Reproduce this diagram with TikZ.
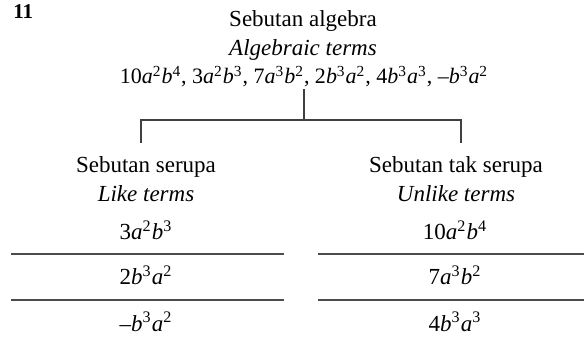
\documentclass[tikz,border=0pt]{standalone}
\usepackage{fontspec}
\setmainfont{Liberation Serif}
\usepackage{xcolor}
\usepackage{tikz}
\usetikzlibrary{positioning, calc}

\newcommand{\pw}[2]{\textit{#1}\textsuperscript{#2}}

\begin{document}
\begin{tikzpicture}[
  x=0.5pt, y=-0.5pt,
  txt/.style={inner sep=0pt, anchor=base, font=\fontsize{11.5}{13}\selectfont},
  eng/.style={txt, font=\fontsize{11.5}{13}\selectfont\itshape},
  tree/.style={draw=black!75, line width=0.6pt},
  rule/.style={draw=black!70, line width=0.8pt}
]
\useasboundingbox (0,0) rectangle (584,342);

\node[anchor=base west, inner sep=0pt, font=\fontsize{10.5}{12}\selectfont\bfseries] (num) at (13,19) {11};

% top
\node[txt] (title) at (303,27) {Sebutan algebra};
\node[eng] (titleen) at (303,56) {Algebraic terms};
\node[txt, font=\fontsize{11}{13}\selectfont] (allterms) at (304,84) {10\pw{a}{2}\pw{b}{4}, 3\pw{a}{2}\pw{b}{3}, 7\pw{a}{3}\pw{b}{2}, 2\pw{b}{3}\pw{a}{2}, 4\pw{b}{3}\pw{a}{3}, –\pw{b}{3}\pw{a}{2}};

% two groups
\node[txt] (like) at (146,172) {Sebutan serupa};
\node[eng] (likeen) at (146,201) {Like terms};
\node[txt] (unlike) at (456,172) {Sebutan tak serupa};
\node[eng] (unlikeen) at (456,201) {Unlike terms};

\coordinate (fork) at (303,120);
\draw[tree] (allterms.south) ++(0,1) -- (allterms.south |- fork);
\draw[tree, shorten >=6.5pt] (fork) -| ([xshift=-2.5pt]like.north);
\draw[tree, shorten >=6.5pt] (fork) -| ([xshift=2.5pt]unlike.north);

% like terms
\node[txt] (l1) at (146,240) {3\pw{a}{2}\pw{b}{3}};
\node[txt] (l2) at (146,285) {2\pw{b}{3}\pw{a}{2}};
\node[txt] (l3) at (146,331) {–\pw{b}{3}\pw{a}{2}};

% unlike terms
\node[txt] (u1) at (455,240) {10\pw{a}{2}\pw{b}{4}};
\node[txt] (u2) at (455,285) {7\pw{a}{3}\pw{b}{2}};
\node[txt] (u3) at (455,331) {4\pw{b}{3}\pw{a}{3}};

\draw[rule] (11,254) -- (284,254);
\draw[rule] (11,300) -- (284,300);
\draw[rule] (318,254) -- (584,254);
\draw[rule] (318,300) -- (584,300);
\end{tikzpicture}
\end{document}
